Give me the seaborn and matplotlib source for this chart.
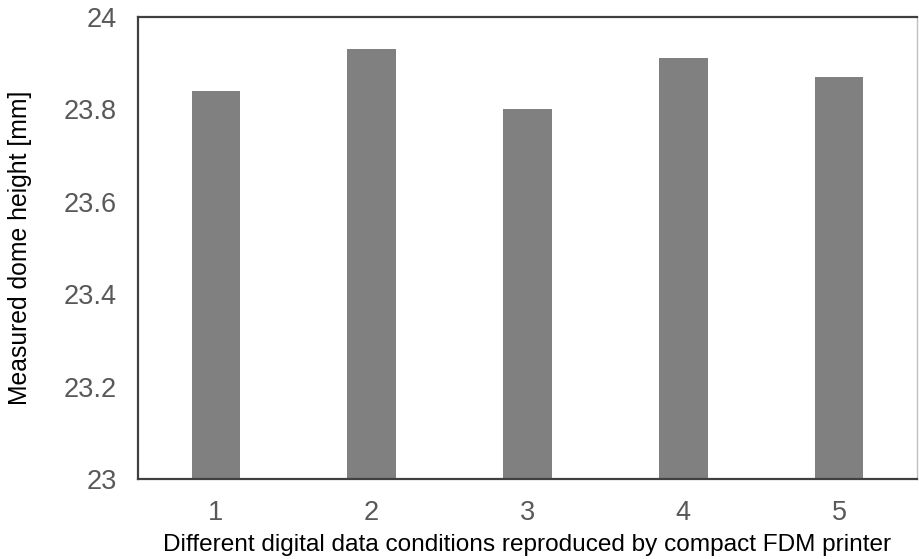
import matplotlib
matplotlib.use("Agg")
import matplotlib.pyplot as plt
import seaborn as sns
import pandas as pd

conditions = ["1", "2", "3", "4", "5"]
heights = [23.84, 23.93, 23.80, 23.91, 23.87]
yticks = [23.0, 23.2, 23.4, 23.6, 23.8, 24.0]
ytick_labels = ["23", "23.2", "23.4", "23.6", "23.8", "24"]

sns.set_theme(style="white")
plt.rcParams['font.family'] = ['Liberation Sans', 'DejaVu Sans']

df = pd.DataFrame({"cond": conditions, "h": heights})

fig = plt.figure(figsize=(9.19, 5.59), dpi=100)
ax = fig.add_axes([0.150, 0.143, 0.848, 0.827])
sns.barplot(data=df, x="cond", y="h", color="#808080", saturation=1,
            width=0.31, ax=ax, edgecolor="none")
ax.set_ylim(23, 24)
ax.set_yticks(yticks)
ax.set_yticklabels(ytick_labels)
ax.set_xlim(-0.5, 4.5)
ax.tick_params(axis="both", length=0, labelsize=19.5, labelcolor="#595959")
ax.tick_params(axis="y", pad=15)
ax.tick_params(axis="x", pad=15)
ax.set_xlabel("Different digital data conditions reproduced by compact FDM printer",
              fontsize=17.6, color="#000000", labelpad=5.5)
ax.set_ylabel("Measured dome height [mm]", fontsize=17.8, color="#000000", labelpad=23)
for s in ["left", "bottom", "top"]:
    ax.spines[s].set_color("#404040")
    ax.spines[s].set_linewidth(1.6)
ax.spines["right"].set_color("#c0c0c0")
ax.spines["right"].set_linewidth(1.0)

fig.savefig("out.png", dpi=100)
